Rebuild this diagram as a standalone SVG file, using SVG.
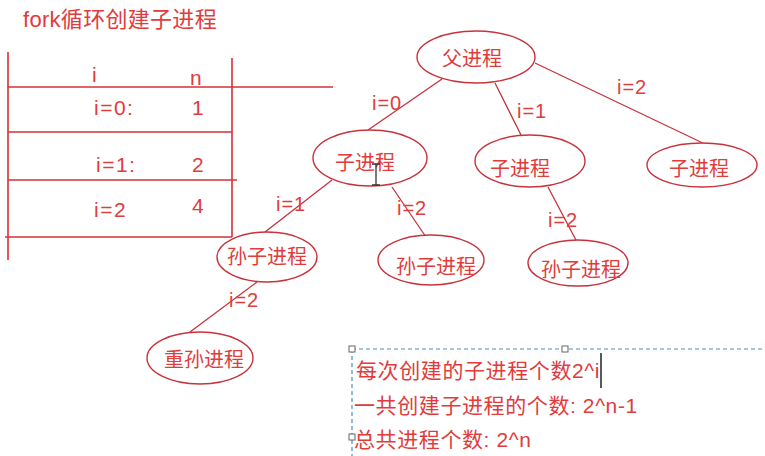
<svg xmlns="http://www.w3.org/2000/svg" width="765" height="456" viewBox="0 0 765 456">
<style>
text{font-family:"Liberation Sans","Noto Sans CJK SC",sans-serif;fill:#e03c3c;font-size:20px}
.n{text-anchor:middle}
.ti{font-size:22px;letter-spacing:0.3px}
.lb{letter-spacing:1px}
.tb{font-size:21px;letter-spacing:1.5px}
.nt{font-size:21px;letter-spacing:0.6px}
.l{stroke:#c8323c;stroke-width:1.3;fill:none}
.t{stroke:#d8303a;stroke-width:1.6;fill:none}
.e{stroke:#c8323c;stroke-width:1.4;fill:#fff}
.h{fill:#fff;stroke:#666;stroke-width:1}
</style>
<rect width="765" height="456" fill="#fff"/>
<text class="ti" x="23" y="27">fork循环创建子进程</text>
<g id="table">
<path class="t" d="M8 52V260M232 58V237M8 87H333M8 132H232M8 180H237M5 237H232"/>
<text class="tb" x="92" y="82">i</text>
<text class="tb" x="190" y="85">n</text>
<text class="tb" x="94" y="115">i=0:</text>
<text class="tb" x="192" y="115">1</text>
<text class="tb" x="96" y="172">i=1:</text>
<text class="tb" x="192" y="172">2</text>
<text class="tb" x="94" y="217">i=2</text>
<text class="tb" x="192" y="213">4</text>
</g>
<g id="connectors">
<path class="l" d="M442 79L368 130M495 83L522 137M535 63L707 145M332 180L265 232M392 187L426 237M548 187L577 242M257 282L190 332"/>
<text class="lb" x="372" y="110">i=0</text>
<text class="lb" x="517" y="118">i=1</text>
<text class="lb" x="617" y="94">i=2</text>
<text class="lb" x="276" y="211">i=1</text>
<text class="lb" x="397" y="215">i=2</text>
<text class="lb" x="548" y="227">i=2</text>
<text class="lb" x="229" y="307">i=2</text>
</g>
<g id="parent"><ellipse class="e" cx="476" cy="57" rx="59" ry="26"/><text class="n" x="472" y="66">父进程</text></g>
<g id="child0"><ellipse class="e" cx="370" cy="158" rx="57" ry="28"/><text class="n" x="365" y="170">子进程</text></g>
<g id="child1"><ellipse class="e" cx="530" cy="161" rx="55" ry="26"/><text class="n" x="520" y="176">子进程</text></g>
<g id="child2"><ellipse class="e" cx="702" cy="165" rx="55" ry="22"/><text class="n" x="699" y="176">子进程</text></g>
<g id="grand0"><ellipse class="e" cx="267" cy="257" rx="50" ry="25"/><text class="n" x="267" y="264">孙子进程</text></g>
<g id="grand1"><ellipse class="e" cx="431" cy="260" rx="53" ry="25"/><text class="n" x="436" y="274">孙子进程</text></g>
<g id="grand2"><ellipse class="e" cx="578" cy="263" rx="50" ry="23"/><text class="n" x="581" y="277">孙子进程</text></g>
<g id="greatgrand"><ellipse class="e" cx="200" cy="358" rx="53" ry="26"/><text class="n" x="204" y="367">重孙进程</text></g>
<g id="cursor" stroke="#333" stroke-width="1.3" fill="none"><path d="M372 164H380M376 164V185M372 185H380"/></g>
<g id="note">
<path d="M352 349H765M352 349V456" stroke="#4a8fc0" stroke-width="1.2" stroke-dasharray="4 3" fill="none"/>
<rect class="h" x="349" y="346" width="6" height="6"/>
<rect class="h" x="562" y="346" width="6" height="6"/>
<rect class="h" x="349" y="434" width="6" height="6"/>
<text class="nt" x="356" y="378">每次创建的子进程个数2^i</text>
<text class="nt" x="354" y="413">一共创建子进程的个数: 2^n-1</text>
<text class="nt" x="354" y="447">总共进程个数: 2^n</text>
<path d="M601 353V388" stroke="#222" stroke-width="1.5"/>
</g>
</svg>
